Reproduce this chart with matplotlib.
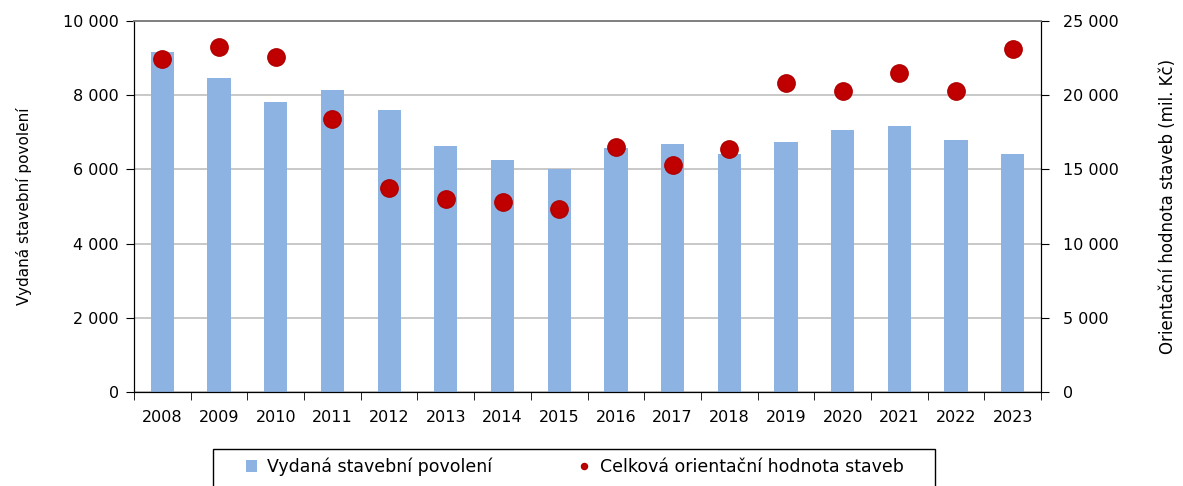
import numpy as np
import matplotlib
matplotlib.use("Agg")
from matplotlib import pyplot as plt
from matplotlib.patches import Rectangle
from matplotlib.ticker import FuncFormatter

years = [str(y) for y in range(2008, 2024)]
permits = [9160, 8460, 7820, 8140, 7600, 6630, 6250, 6010,
           6580, 6680, 6420, 6740, 7060, 7170, 6790, 6420]
value_mil = [22450, 23220, 22550, 18400, 13770, 12980, 12820, 12330,
             16530, 15280, 16400, 20820, 20280, 21520, 20280, 23110]

plt.rcParams['font.family'] = ['DejaVu Sans']
plt.rcParams['font.size'] = 11.5


def space_fmt(v, pos):
    return f"{int(v):,}".replace(",", " ")


fig = plt.figure(figsize=(11.83, 4.86), dpi=100)
ax = fig.add_axes([0.1133, 0.1934, 0.7667, 0.7634])
ax2 = ax.twinx()

x = np.arange(len(years))
ax.bar(x, permits, width=0.41, color='#8DB3E2', zorder=2,
       label='Vydaná stavební povolení')
ax2.plot(x, value_mil, linestyle='none', marker='o', markersize=12.5,
         color='#C00000', markeredgecolor='#B00000', zorder=3,
         label='Celková orientační hodnota staveb')

ax.set_xlim(-0.5, len(years) - 0.5)
ax.set_ylim(0, 10000)
ax2.set_ylim(0, 25000)
ax.set_yticks(np.arange(0, 10001, 2000))
ax2.set_yticks(np.arange(0, 25001, 5000))
ax.yaxis.set_major_formatter(FuncFormatter(space_fmt))
ax2.yaxis.set_major_formatter(FuncFormatter(space_fmt))

# category labels centred, ticks on category boundaries
ax.set_xticks(x)
ax.set_xticklabels(years)
ax.set_xticks(np.arange(-0.5, len(years), 1), minor=True)
ax.tick_params(axis='x', which='major', length=0, pad=13)
ax.tick_params(axis='x', which='minor', length=6, direction='out', color='black')
ax.tick_params(axis='y', length=6, direction='out', color='black', pad=5)
ax2.tick_params(axis='y', length=6, direction='out', color='black', pad=10)

ax.grid(axis='y', color='#BFBFBF', linewidth=1.2, zorder=0)
ax.set_axisbelow(True)

for a in (ax, ax2):
    a.spines['top'].set_color('#7F7F7F')
    a.spines['left'].set_color('black')
    a.spines['right'].set_color('black')
    a.spines['bottom'].set_color('black')
    a.spines['top'].set_linewidth(1.2)

ax.set_ylabel('Vydaná stavební povolení', fontsize=11, labelpad=22)
ax2.set_ylabel('Orientační hodnota staveb (mil. Kč)', fontsize=12, labelpad=29)

# legend box runs off the bottom edge, as in the original
fig.patches.append(Rectangle((213 / 1183, -0.05), (935 - 213) / 1183, 0.05 + 37 / 486,
                             transform=fig.transFigure, fill=False,
                             edgecolor='black', linewidth=1.0))

h1, l1 = ax.get_legend_handles_labels()
h2, l2 = ax2.get_legend_handles_labels()
leg = fig.legend(h1 + h2, l1 + l2, loc='center', ncol=2,
                 bbox_to_anchor=(0.486, 0.039), columnspacing=5.0,
                 handlelength=0.6, handletextpad=0.6, markerscale=0.35,
                 frameon=False, fontsize=12.5)

fig.savefig('out.png', dpi=100)
